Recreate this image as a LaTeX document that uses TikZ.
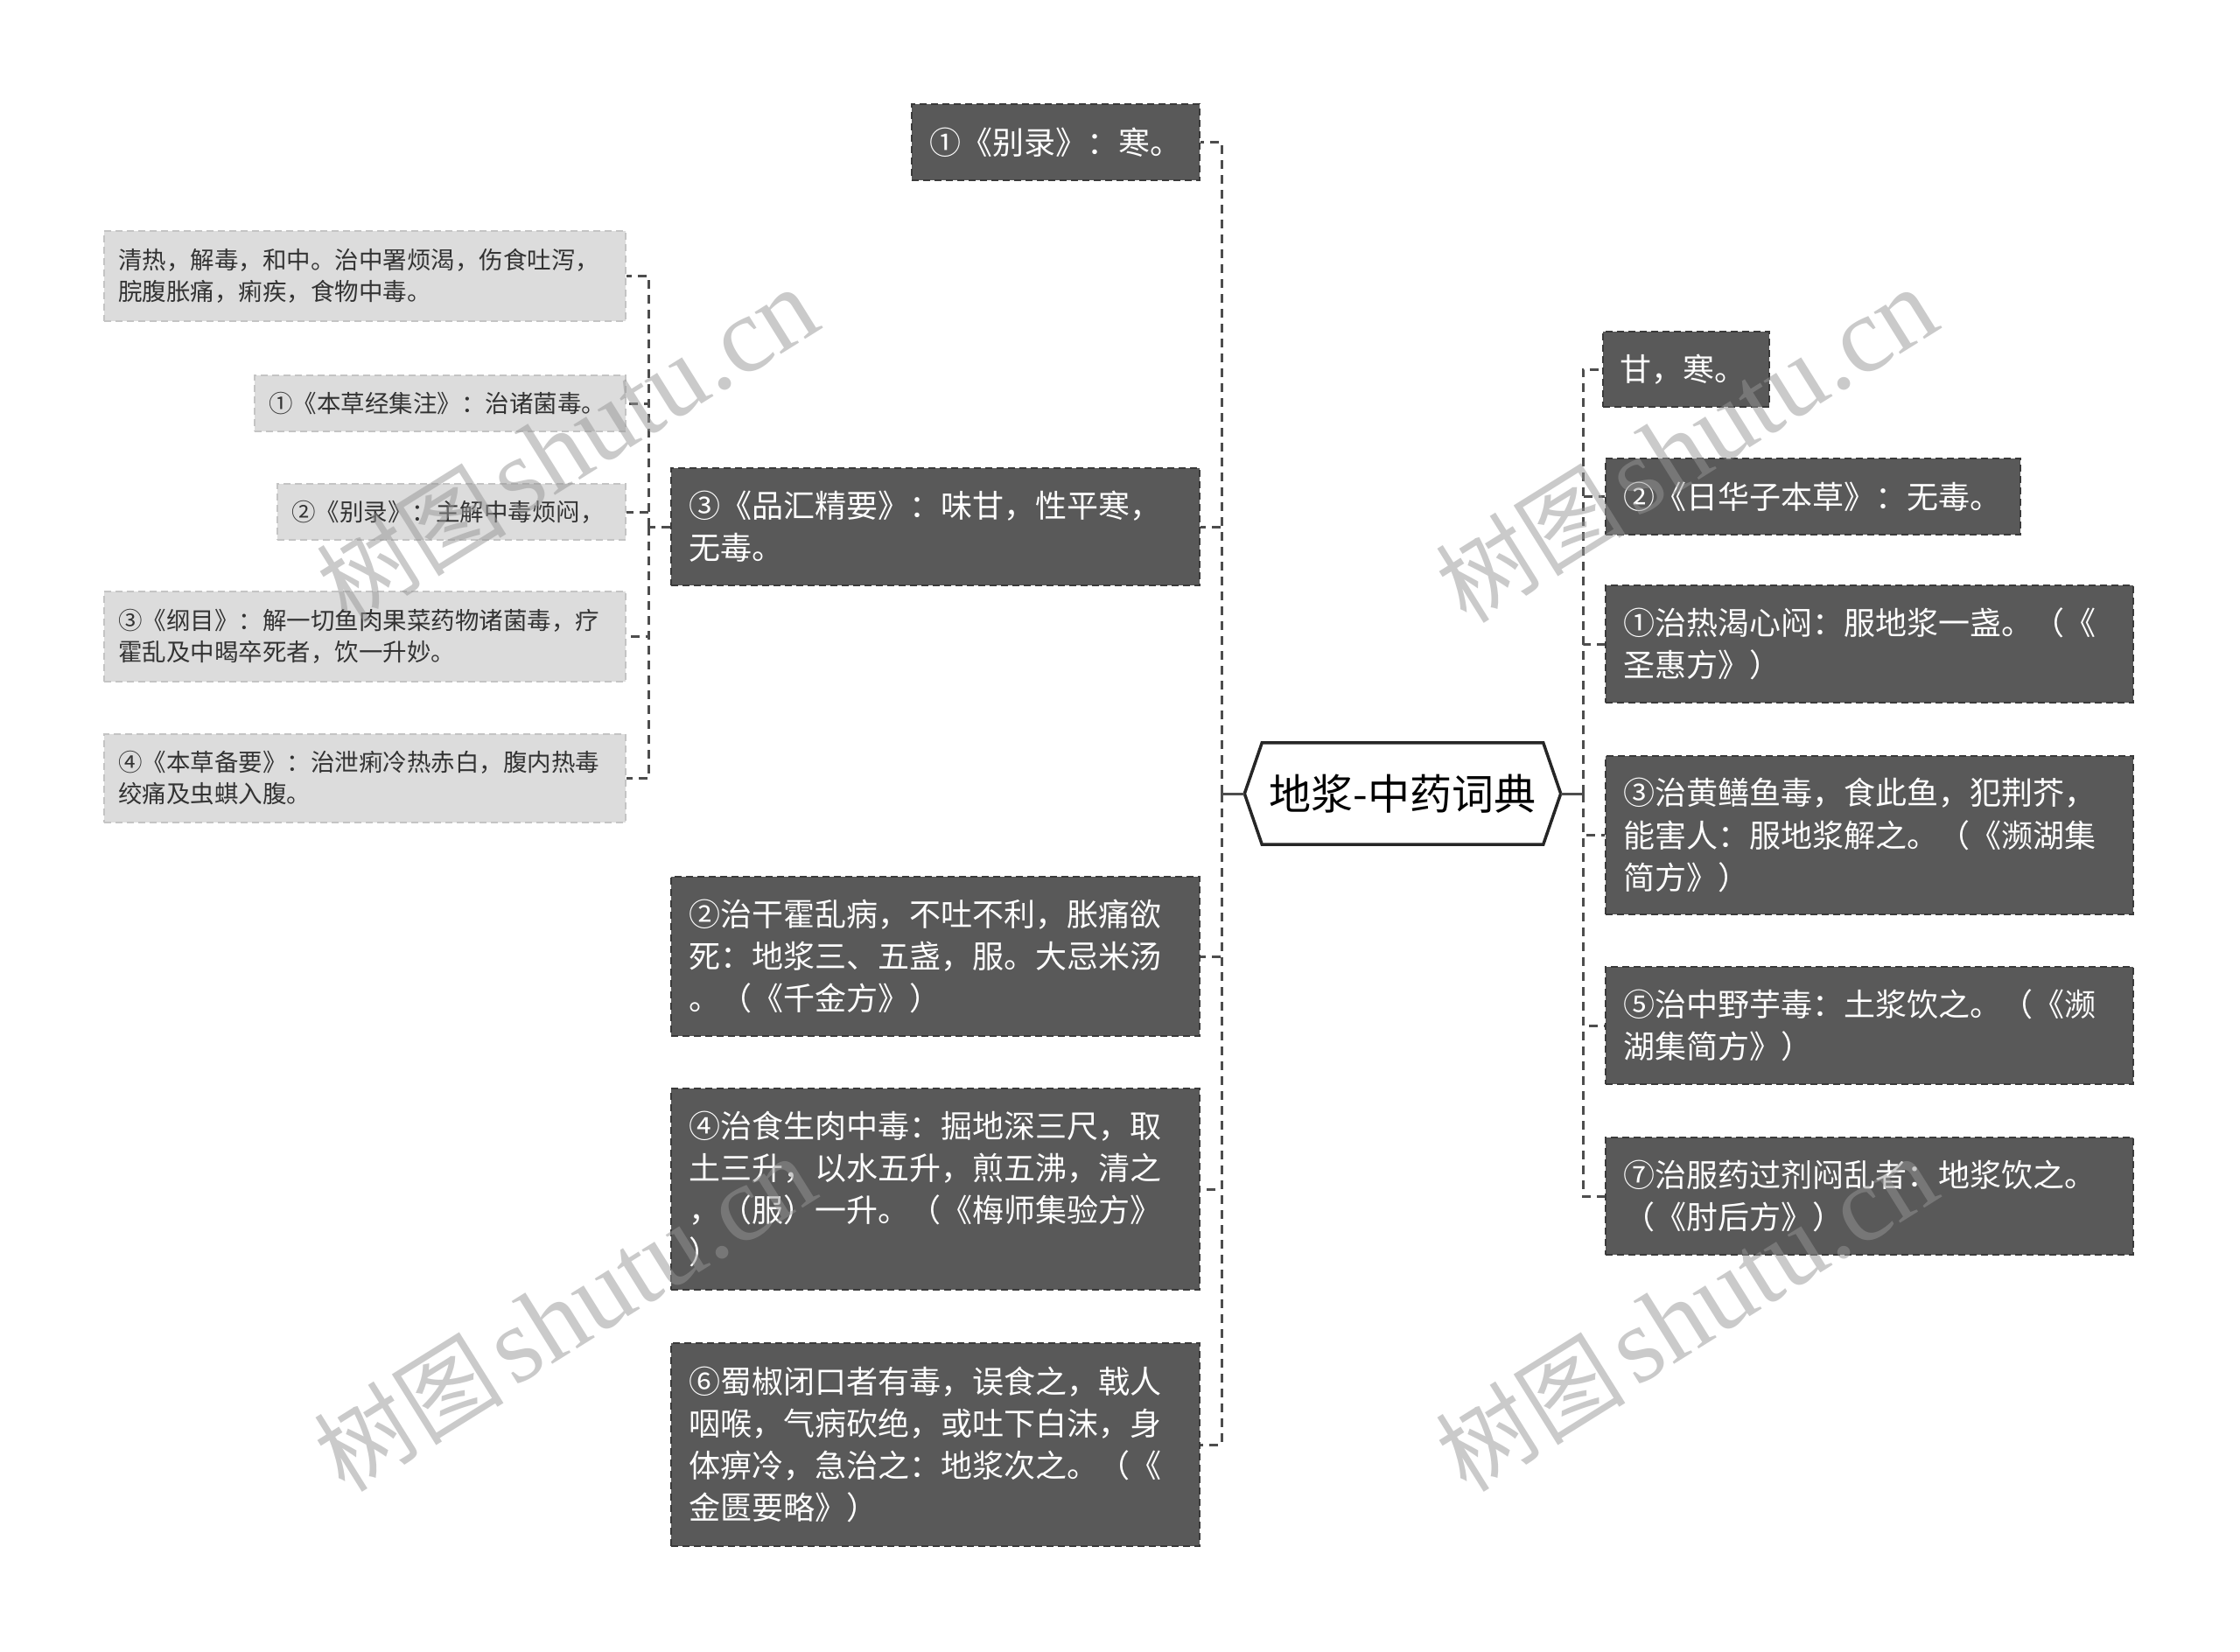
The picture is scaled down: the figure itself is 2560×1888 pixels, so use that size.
\documentclass[tikz,border=0pt]{standalone}
\usepackage{fontspec}
\newfontfamily\cjk{Noto Sans CJK SC}
\newfontfamily\wmlat{Liberation Serif}
\usetikzlibrary{calc}
\newlength\pxu \setlength\pxu{0.01cm}
\definecolor{dfill}{HTML}{595959}
\definecolor{dline}{HTML}{3A3A3A}
\definecolor{lfill}{HTML}{DCDCDC}
\definecolor{lline}{HTML}{C4C4C4}
\definecolor{cline}{HTML}{4D4D4D}
\definecolor{wm}{HTML}{969696}
\pgfdeclarelayer{background}
\pgfsetlayers{background,main}
\begin{document}
\begin{tikzpicture}[x=0.01cm,y=-0.01cm,
  bsz/.style n args={3}{minimum width=#1\pxu, minimum height=#2\pxu, text width=#3\pxu},
  dbox/.style={draw=dline, fill=dfill, dash pattern=on 8\pxu off 5\pxu, line width=2\pxu, text=white, font=\cjk\fontsize{10.24}{13.66}\selectfont, align=left, inner xsep=20\pxu, inner ysep=0pt, anchor=center},
  lbox/.style={draw=lline, fill=lfill, dash pattern=on 8\pxu off 5\pxu, line width=2\pxu, text=black!80, font=\cjk\fontsize{7.82}{10.24}\selectfont, align=left, inner xsep=16\pxu, inner ysep=0pt, anchor=center},
  conn/.style={draw=cline, line width=3\pxu, dash pattern=on 10\pxu off 7\pxu},
  solidc/.style={draw=cline, line width=3\pxu},
  wmark/.style={text=wm, opacity=0.5, rotate=32, inner sep=0pt}
]
\useasboundingbox (0,0) rectangle (2560,1888);

% root
\node[font=\cjk\fontsize{13.66}{16}\selectfont, minimum width=360\pxu, minimum height=115\pxu, inner sep=0pt] (root) at (1603,907) {地浆-中药词典};
\begin{pgfonlayer}{background}
\fill[white] (0,0) rectangle (2560,1888);
\draw[line width=3.5\pxu, draw=black!85, fill=white] (root.west) -- ([xshift=20\pxu]root.north west) -- ([xshift=-20\pxu]root.north east) -- (root.east) -- ([xshift=-20\pxu]root.south east) -- ([xshift=20\pxu]root.south west) -- cycle;
\end{pgfonlayer}

% left level 1
\node[dbox, bsz={329}{87}{289}] (l1a) at (1206.5,162.5) {①《别录》：寒。};
\node[dbox, bsz={604}{134}{564}] (l1b) at (1069,602) {③《品汇精要》：味甘，性平寒，\\无毒。};
\node[dbox, bsz={604}{182}{564}] (l1c) at (1069,1093) {②治干霍乱病，不吐不利，胀痛欲\\死：地浆三、五盏，服。大忌米汤\\。（《千金方》）};
\node[dbox, bsz={604}{230}{564}] (l1d) at (1069,1359) {④治食生肉中毒：掘地深三尺，取\\土三升，以水五升，煎五沸，清之\\，（服）一升。（《梅师集验方》\\）};
\node[dbox, bsz={604}{232}{564}] (l1e) at (1069,1651) {⑥蜀椒闭口者有毒，误食之，戟人\\咽喉，气病砍绝，或吐下白沫，身\\体痹冷，急治之：地浆次之。（《\\金匮要略》）};

% left level 2
\node[lbox, bsz={596}{103}{564}] (l2a) at (417,315.5) {清热，解毒，和中。治中署烦渴，伤食吐泻，\\脘腹胀痛，痢疾，食物中毒。};
\node[lbox, bsz={424}{64}{392}] (l2b) at (503,461) {①《本草经集注》：治诸菌毒。};
\node[lbox, bsz={398}{64}{366}] (l2c) at (516,585) {②《别录》：主解中毒烦闷，};
\node[lbox, bsz={596}{103}{564}] (l2d) at (417,727.5) {③《纲目》：解一切鱼肉果菜药物诸菌毒，疗\\霍乱及中暍卒死者，饮一升妙。};
\node[lbox, bsz={596}{101}{564}] (l2e) at (417,889.5) {④《本草备要》：治泄痢冷热赤白，腹内热毒\\绞痛及虫蜞入腹。};

% right
\node[dbox, bsz={183}{86}{150}] (r1) at (1926.5,422) {甘，寒。};
\node[dbox, bsz={474}{87}{434}] (r2) at (2072,567.5) {②《日华子本草》：无毒。};
\node[dbox, bsz={603}{134}{563}] (r3) at (2136.5,736) {①治热渴心闷：服地浆一盏。（《\\圣惠方》）};
\node[dbox, bsz={603}{181}{563}] (r4) at (2136.5,954.5) {③治黄鳝鱼毒，食此鱼，犯荆芥，\\能害人：服地浆解之。（《濒湖集\\简方》）};
\node[dbox, bsz={603}{134}{563}] (r5) at (2136.5,1172) {⑤治中野芋毒：土浆饮之。（《濒\\湖集简方》）};
\node[dbox, bsz={603}{134}{563}] (r6) at (2136.5,1367) {⑦治服药过剂闷乱者：地浆饮之。\\（《肘后方》）};

% connectors
\coordinate (tL) at (1396,907);
\coordinate (tR) at (1809,907);
\coordinate (tL2) at (741,602);
\draw[solidc] (root.west) -- (tL);
\draw[solidc] (root.east) -- (tR);
\foreach \n in {l1a,l1b,l1c,l1d,l1e} \draw[conn] (tL) |- (\n.east);
\foreach \n in {r1,r2,r3,r4,r5,r6} \draw[conn] (tR) |- (\n.west);
\draw[conn] (l1b.west) -- (tL2);
\foreach \n in {l2a,l2b,l2c,l2d,l2e} \draw[conn] (tL2) |- (\n.east);

% watermarks
\foreach \i/\p in {1/{(648,509)},2/{(1927,509)},3/{(645,1502)},4/{(1927,1502)}}
  \node[wmark] (wm\i) at \p {{\cjk\fontsize{31}{31}\selectfont 树图} {\wmlat\fontsize{35}{35}\selectfont shutu.cn}};
\end{tikzpicture}
\end{document}
